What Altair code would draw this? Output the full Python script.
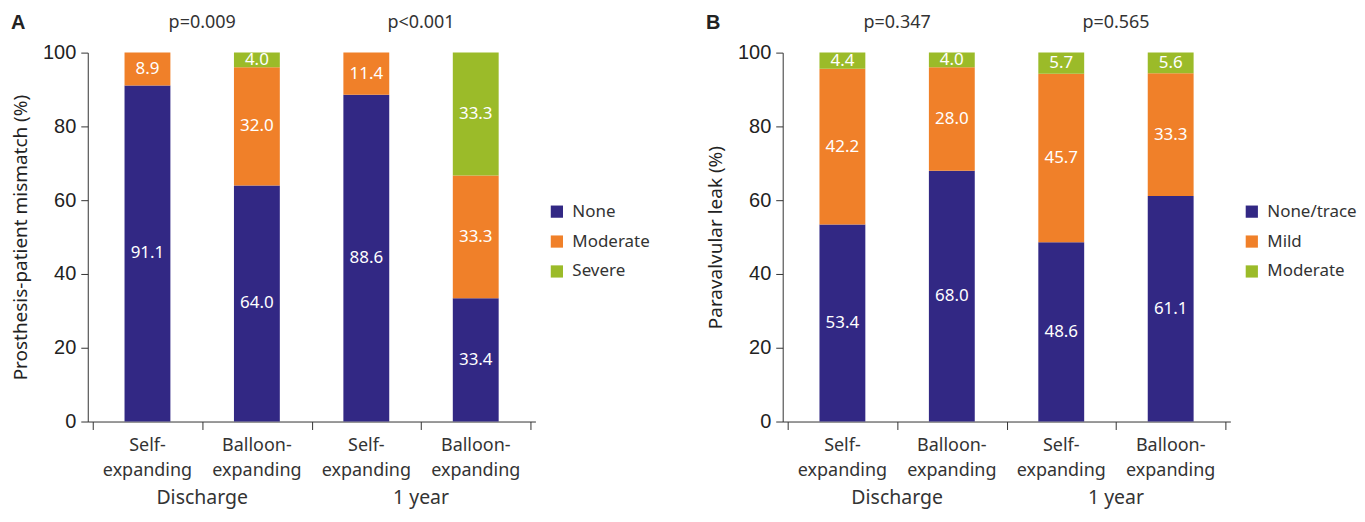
import altair as alt
import pandas as pd

# ---- data ----
periods = ["Discharge", "1 year"]
valves = ["Self-\nexpanding", "Balloon-\nexpanding", "Self-\nexpanding", "Balloon-\nexpanding"]

a_cats = ["None", "Moderate", "Severe"]
a_none = [91.1, 64.0, 88.6, 33.4]
a_moderate = [8.9, 32.0, 11.4, 33.3]
a_severe = [0.0, 4.0, 0.0, 33.3]
a_pvalues = ["p=0.009", "p<0.001"]

b_cats = ["None/trace", "Mild", "Moderate"]
b_none = [53.4, 68.0, 48.6, 61.1]
b_mild = [42.2, 28.0, 45.7, 33.3]
b_moderate = [4.4, 4.0, 5.7, 5.6]
b_pvalues = ["p=0.347", "p=0.565"]

colors = ["#322884", "#F08029", "#9BBB29"]

FONT = "Noto Sans"
NUMFONT = "Liberation Sans"
W, H = 449, 370


def panel(letter, cats, series, pvals, ytitle):
    rows = []
    for k, (cat, vals) in enumerate(zip(cats, series)):
        for i, v in enumerate(vals):
            rows.append({"pos": i + 0.5, "cat": cat, "k": k, "value": v, "label": f"{v:.1f}"})
    df = pd.DataFrame(rows)
    dfx = pd.DataFrame({"pos": [i + 0.5 for i in range(len(valves))], "label": valves})
    dfg = pd.DataFrame({"pos": [1.0, 3.0], "period": periods, "p": pvals})
    dfl = pd.DataFrame({"t": [letter]})

    xscale = alt.Scale(domain=[0, 4], nice=False, zero=False)
    yscale = alt.Scale(domain=[0, 100], nice=False)

    base = alt.Chart(df).transform_filter("datum.value > 0").transform_stack(
        stack="value", as_=["y0", "y1"], groupby=["pos"],
        sort=[alt.SortField("k", order="ascending")]
    )
    bars = base.mark_bar(size=46).encode(
        x=alt.X("pos:Q", scale=xscale,
                axis=alt.Axis(values=[0, 1, 2, 3, 4], labels=False, title=None,
                              tickSize=8, grid=False, domainColor="#333",
                              tickColor="#333")),
        y=alt.Y("y0:Q", scale=yscale,
                axis=alt.Axis(values=[0, 20, 40, 60, 80, 100], title=ytitle,
                              grid=False, tickSize=7, domainColor="#333",
                              tickColor="#333", labelFont=NUMFONT,
                              labelFontSize=20, labelColor="#222",
                              labelPadding=5, titleFont=FONT,
                              titleFontSize=19, titleFontWeight="normal",
                              titleColor="#222", titlePadding=12)),
        y2="y1:Q",
        color=alt.Color("cat:N", scale=alt.Scale(domain=cats, range=colors),
                        legend=alt.Legend(title=None, orient="none",
                                          legendX=462, legendY=151,
                                          symbolType="square", symbolSize=150,
                                          symbolStrokeWidth=0, symbolOpacity=1,
                                          labelFont=FONT, labelFontSize=17,
                                          labelColor="#333", rowPadding=12,
                                          labelOffset=7, padding=0)),
    )
    labels = base.transform_calculate(mid="(datum.y0 + datum.y1) / 2").mark_text(
        color="white", font=FONT, fontSize=17
    ).encode(x="pos:Q", y="mid:Q", text="label:N")

    xlab = alt.Chart(dfx).mark_text(
        font=FONT, fontSize=18, color="#333", lineBreak="\n", lineHeight=25,
        baseline="top"
    ).encode(x="pos:Q", y=alt.value(H + 16), text="label:N")

    glab = alt.Chart(dfg).mark_text(font=FONT, fontSize=19.5, color="#333").encode(
        x="pos:Q", y=alt.value(H + 77), text="period:N")
    plab = alt.Chart(dfg).mark_text(font=FONT, fontSize=18, color="#333").encode(
        x="pos:Q", y=alt.value(-30), text="p:N")
    letter_t = alt.Chart(dfl).mark_text(
        font=NUMFONT, fontSize=20, fontWeight="bold", color="#222", align="left"
    ).encode(x=alt.value(-77), y=alt.value(-30), text="t:N")

    return alt.layer(bars, labels, xlab, glab, plab, letter_t).properties(width=W, height=H)


pa = panel("A", a_cats, [a_none, a_moderate, a_severe], a_pvalues,
           "Prosthesis-patient mismatch (%)")
pb = panel("B", b_cats, [b_none, b_mild, b_moderate], b_pvalues,
           "Paravalvular leak (%)")

chart = alt.hconcat(pa, pb, spacing=56).resolve_scale(color="independent").configure_view(
    stroke=None
).properties(padding={"left": 3, "top": 4, "right": 0, "bottom": 2})

chart.save("out.html", embed_options={"renderer": "svg", "actions": False})
